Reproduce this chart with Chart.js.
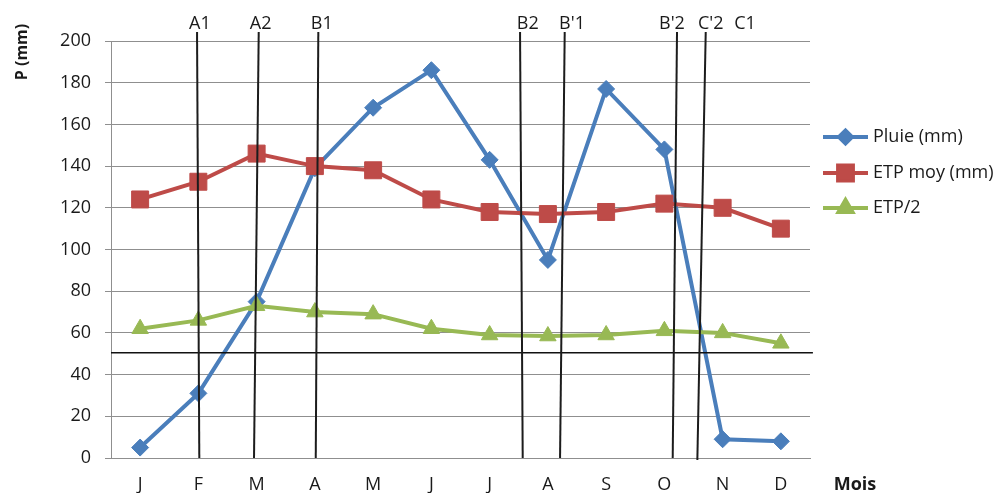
<!DOCTYPE html>
<html>
<head>
<meta charset="utf-8">
<title>Pluie et ETP</title>
<script src="https://cdn.jsdelivr.net/npm/chart.js@4.4.1/dist/chart.umd.min.js"></script>
<style>
  html, body { margin: 0; padding: 0; background: #ffffff; }
  #wrap { width: 1005px; height: 493px; position: relative; }
</style>
</head>
<body>
<div id="wrap"><canvas id="chart" width="1005" height="493"></canvas></div>
<script>
// Monthly series (mm)
const months = ['J', 'F', 'M', 'A', 'M', 'J', 'J', 'A', 'S', 'O', 'N', 'D'];
const pluie = [5, 31, 75, 139, 168, 186, 143, 95, 177, 148, 9, 8];
const etpMoy = [124, 132.5, 146, 140, 138, 124, 118, 117, 118, 122, 120, 110];
const etpDemi = [62, 66, 73, 70, 69, 62, 59, 58.5, 59, 61, 60, 55];

// Y axis ticks
const yTicks = [0, 20, 40, 60, 80, 100, 120, 140, 160, 180, 200];

// Period limits (position in month units, top and bottom ends)
const limitNames = ['A1', 'A2', 'B1', 'B2', "B'1", "B'2", "C'2"];
const limitTop = [0.977, 2.036, 3.059, 6.522, 7.289, 9.217, 9.710];
const limitBottom = [1.016, 1.955, 3.015, 6.568, 7.209, 9.143, 9.566];
const limitBottomValue = [0, 0, 0, 0, 0, 0, -1];
const limitTopValue = 204.3;

// Period labels written above the plot
const periodLabels = ['A1', 'A2', 'B1', 'B2', "B'1", "B'2", "C'2", 'C1'];
const periodLabelPos = [1.027, 2.07, 3.118, 6.654, 7.415, 9.13, 9.796, 10.385];

// Threshold line (mm)
const seuil = 50.5;

const FONT = '"Open Sans", "Noto Sans", sans-serif';
const TEXT = '#1a1a1a';

const overlay = {
  id: 'overlay',
  afterDatasetsDraw(chart) {
    const ctx = chart.ctx;
    const xs = chart.scales.x, ys = chart.scales.y;
    ctx.save();
    // threshold line
    ctx.strokeStyle = '#111';
    ctx.lineWidth = 1.5;
    ctx.beginPath();
    const yl = ys.getPixelForValue(seuil);
    ctx.moveTo(xs.getPixelForValue(-0.5), yl);
    ctx.lineTo(xs.getPixelForValue(11.55), yl);
    ctx.stroke();
    // period limits
    ctx.strokeStyle = '#1c1c1c';
    ctx.lineWidth = 2;
    limitNames.forEach((n, i) => {
      ctx.beginPath();
      ctx.moveTo(xs.getPixelForValue(limitTop[i]), ys.getPixelForValue(limitTopValue));
      ctx.lineTo(xs.getPixelForValue(limitBottom[i]), ys.getPixelForValue(limitBottomValue[i]));
      ctx.stroke();
    });
    // labels
    ctx.fillStyle = TEXT;
    ctx.font = '18px ' + FONT;
    ctx.textAlign = 'center';
    ctx.textBaseline = 'middle';
    periodLabels.forEach((t, i) => {
      ctx.fillText(t, xs.getPixelForValue(periodLabelPos[i]), 24);
    });
    ctx.restore();
  },
  afterDraw(chart) {
    const ctx = chart.ctx;
    ctx.save();
    // axis titles
    ctx.fillStyle = TEXT;
    ctx.font = 'bold 16px ' + FONT;
    ctx.textAlign = 'center';
    ctx.textBaseline = 'middle';
    ctx.translate(22, 52);
    ctx.rotate(-Math.PI / 2);
    ctx.fillText('P (mm)', 0, 0);
    ctx.setTransform(1, 0, 0, 1, 0, 0);
    ctx.font = 'bold 18px ' + FONT;
    ctx.fillText('Mois', 855, 485);
    // legend
    const rows = [137, 173, 208];
    chart.data.datasets.forEach((ds, i) => {
      const y = rows[i];
      ctx.strokeStyle = ds.borderColor;
      ctx.lineWidth = ds.borderWidth;
      ctx.beginPath();
      ctx.moveTo(823, y);
      ctx.lineTo(868, y);
      ctx.stroke();
      Chart.helpers.drawPoint(ctx, {
        pointStyle: ds.pointStyle,
        radius: ds.legendRadius,
        rotation: 0,
        borderWidth: 1
      }, 845.5, y);
      ctx.fillStyle = ds.pointBackgroundColor;
      ctx.strokeStyle = ds.pointBorderColor;
      ctx.lineWidth = 1;
      ctx.fill();
      ctx.stroke();
      ctx.fillStyle = TEXT;
      ctx.font = '18px ' + FONT;
      ctx.textAlign = 'left';
      ctx.fillText(ds.label, 873, y);
    });
    ctx.restore();
  }
};

new Chart(document.getElementById('chart'), {
  type: 'line',
  data: {
    labels: months,
    datasets: [
      {
        label: 'Pluie (mm)',
        data: pluie,
        borderColor: '#4A7EBB',
        backgroundColor: '#4A7EBB',
        pointBackgroundColor: '#4A7EBB',
        pointBorderColor: '#4A7EBB',
        borderWidth: 4,
        pointStyle: 'rectRot',
        pointRadius: 8.5,
        pointBorderWidth: 1,
        legendRadius: 6.5,
        order: 3
      },
      {
        label: 'ETP moy (mm)',
        data: etpMoy,
        borderColor: '#BE4B48',
        backgroundColor: '#BE4B48',
        pointBackgroundColor: '#BE4B48',
        pointBorderColor: '#BE4B48',
        borderWidth: 4,
        pointStyle: 'rect',
        pointRadius: 12,
        pointBorderWidth: 1,
        legendRadius: 10.5,
        order: 2
      },
      {
        label: 'ETP/2',
        data: etpDemi,
        borderColor: '#98B954',
        backgroundColor: '#98B954',
        pointBackgroundColor: '#98B954',
        pointBorderColor: '#98B954',
        borderWidth: 4,
        pointStyle: 'triangle',
        pointRadius: 9.5,
        pointBorderWidth: 1,
        legendRadius: 8,
        order: 1
      }
    ]
  },
  options: {
    responsive: false,
    animation: false,
    devicePixelRatio: 1,
    layout: { padding: { left: 0, top: 41, right: 195, bottom: 0 } },
    plugins: { legend: { display: false }, tooltip: { enabled: false }, title: { display: false } },
    elements: { line: { tension: 0 } },
    scales: {
      x: {
        type: 'category',
        offset: true,
        grid: { display: false, drawTicks: false },
        border: { display: true, color: '#8f8f8f', width: 1 },
        ticks: { color: TEXT, font: { family: FONT, size: 18 }, padding: 16, maxRotation: 0, autoSkip: false },
        afterFit(s) { s.height = 35; }
      },
      y: {
        min: 0,
        max: 200,
        afterBuildTicks(s) { s.ticks = yTicks.map(v => ({ value: v })); },
        grid: { color: '#8f8f8f', lineWidth: 1, drawTicks: true, tickLength: 6 },
        border: { display: true, color: '#8f8f8f', width: 1 },
        ticks: { color: TEXT, font: { family: FONT, size: 18 }, padding: 14 },
        afterFit(s) { s.width = 111; }
      }
    }
  },
  plugins: [overlay]
});
</script>
</body>
</html>
